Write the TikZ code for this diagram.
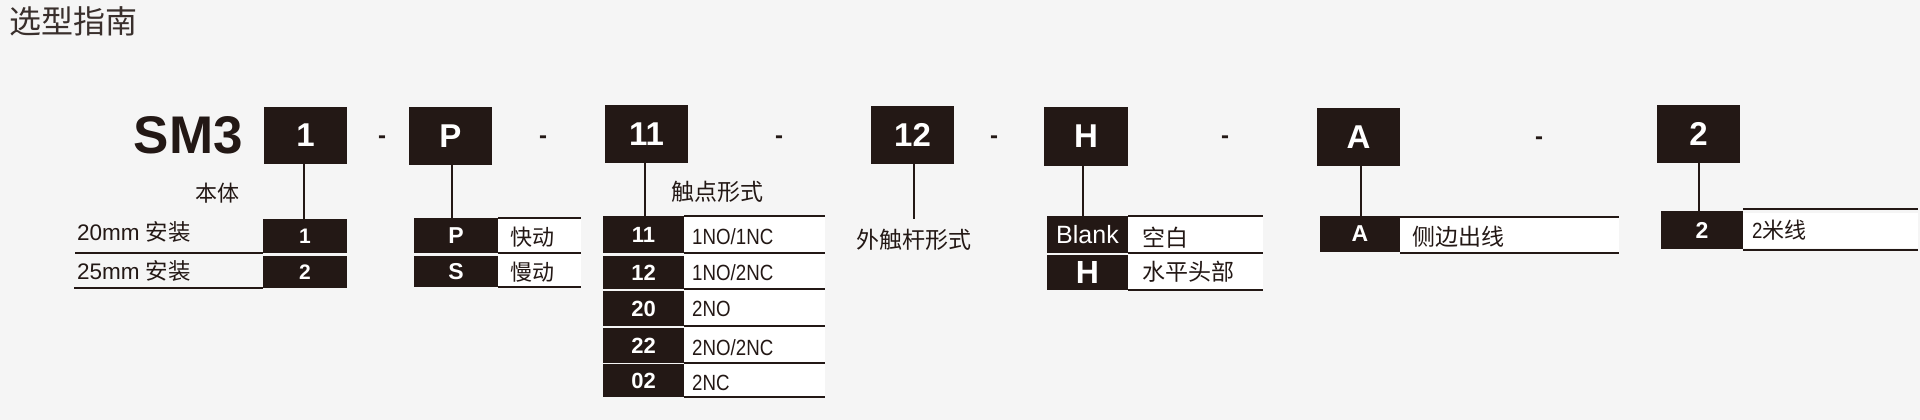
\documentclass[tikz,border=0pt]{standalone}
\usepackage{fontspec}
\setmainfont{Liberation Sans}
\newfontfamily\cjk{Noto Sans CJK SC}
\newfontfamily\narrow[FakeStretch=0.85]{Liberation Sans}
\newcommand\fs[1]{\fontsize{#1}{#1}\selectfont}
\definecolor{boxc}{HTML}{231815}
\definecolor{bgc}{HTML}{F5F5F5}
\tikzset{
  bbox/.style={fill=boxc,text=white,inner sep=0,minimum width=83,minimum height=58,font=\bfseries\fs{33}},
  sbox/.style={fill=boxc,text=white,inner sep=0,font=\bfseries\fs{21}},
  lbl/.style={anchor=west,inner sep=0,text=boxc,font=\cjk\fs{22}},
  hrule/.style={draw=boxc,line width=1.6},
  vconn/.style={draw=boxc,line width=2},
  hyph/.style={anchor=base,inner sep=0,text=boxc,font=\bfseries\fs{24}},
}
\begin{document}
\begin{tikzpicture}[x=1pt,y=-1pt]
\fill[bgc] (0,0) rectangle (1920,420);
\useasboundingbox (0,0) rectangle (1920,420);
% white cells
\fill[white] (498,218) rectangle (581,288);
\fill[white] (684,217) rectangle (825,398);
\fill[white] (1128,217) rectangle (1263,289);
\fill[white] (1400,217) rectangle (1619,253);
\fill[white] (1743,213) rectangle (1918,248);

\node[anchor=west,inner sep=0,text=boxc!90,font=\cjk\fs{32}] (title) at (9,21) {选型指南};
\node[anchor=east,inner sep=0,text=boxc,font=\bfseries\fs{53}] (sm3) at (243,135) {SM3};

% main code boxes
\node[bbox,minimum width=83,minimum height=57] (b1)  at (305.5,135.5) {1};
\node[bbox] (bP)  at (450.5,136) {P};
\node[bbox] (b11) at (646.5,134) {11};
\node[bbox] (b12) at (912.5,135) {12};
\node[bbox,minimum width=84,minimum height=59] (bH)  at (1086,136.5) {H};
\node[bbox] (bA)  at (1358.5,137) {A};
\node[bbox] (b2)  at (1698.5,134) {2};

% hyphens
\node[hyph] (d1) at (382,143) {-};
\node[hyph] (d2) at (543,143) {-};
\node[hyph] (d3) at (779,143) {-};
\node[hyph] (d4) at (994,143) {-};
\node[hyph] (d5) at (1225,143) {-};
\node[hyph] (d6) at (1539,144) {-};

% --- table 1 : body
\node[lbl,anchor=center] (t1) at (217,193) {本体};
\node[sbox,minimum width=84,minimum height=34] (s1a) at (305,236) {1};
\node[sbox,minimum width=84,minimum height=32] (s1b) at (305,272) {2};
\draw[vconn] ([xshift=-2pt]b1.south) -- ([xshift=-2pt]b1.south |- s1a.north);
\draw[hrule] (s1a.south west) -- ++(-188,0);
\draw[hrule] (s1b.south west) -- ++(-189,0);
\node[lbl] (l1a) at (77,232) {\fs{22.5}\rmfamily 20mm \cjk 安装};
\node[lbl] (l1b) at (77,271) {\fs{22.5}\rmfamily 25mm \cjk 安装};

% --- table P
\node[sbox,font=\bfseries\fs{23},minimum width=84,minimum height=35] (sPa) at (456,235.5) {P};
\node[sbox,font=\bfseries\fs{23},minimum width=84,minimum height=31] (sPb) at (456,271.5) {S};
\draw[vconn] ([xshift=1.5pt]bP.south) -- ([xshift=1.5pt]bP.south |- sPa.north);
\draw[hrule] (sPa.north east) -- ++(83,0);
\draw[hrule] (sPa.south east) -- ++(83,0);
\draw[hrule] (sPb.south east) -- ++(83,0);
\node[lbl] (lPa) at (510,237) {快动};
\node[lbl] (lPb) at (510,272) {慢动};

% --- table 11
\node[lbl,anchor=center,font=\cjk\fs{23}] (t11) at (717,192) {触点形式};
\node[sbox,font=\bfseries\fs{22},minimum width=81,minimum height=37] (r1) at (643.5,234.5) {11};
\node[sbox,font=\bfseries\fs{22},minimum width=81,minimum height=33] (r2) at (643.5,272.5) {12};
\node[sbox,font=\bfseries\fs{22},minimum width=81,minimum height=35] (r3) at (643.5,308.5) {20};
\node[sbox,font=\bfseries\fs{22},minimum width=81,minimum height=35] (r4) at (643.5,345.5) {22};
\node[sbox,font=\bfseries\fs{22},minimum width=81,minimum height=33] (r5) at (643.5,380.5) {02};
\draw[vconn] ([xshift=-1.5pt]b11.south) -- ([xshift=-1.5pt]b11.south |- r1.north);
\draw[hrule] (r1.north east) -- ++(141,0);
\draw[hrule] (r1.south east) -- ++(141,0);
\draw[hrule] (r2.south east) -- ++(141,0);
\draw[hrule] (r3.south east) -- ++(141,0);
\draw[hrule] (r4.south east) -- ++(141,0);
\draw[hrule] (r5.south east) -- ++(141,0);
\node[lbl,font=\narrow\fs{22}] (lr1) at (692,237) {1NO/1NC};
\node[lbl,font=\narrow\fs{22}] (lr2) at (692,273) {1NO/2NC};
\node[lbl,font=\narrow\fs{22}] (lr3) at (692,309) {2NO};
\node[lbl,font=\narrow\fs{22}] (lr4) at (692,348) {2NO/2NC};
\node[lbl,font=\narrow\fs{22}] (lr5) at (692,383) {2NC};

% --- 12
\coordinate (e12) at (914,219);
\draw[vconn] (b12.south -| e12) -- (e12);
\node[lbl,anchor=center,font=\cjk\fs{23}] (t12) at (913.5,240) {外触杆形式};

% --- table H
\node[sbox,font=\fs{25},minimum width=81,minimum height=37] (sBl) at (1087.5,234.5) {Blank};
\node[sbox,font=\bfseries\fs{32},minimum width=81,minimum height=35] (sH) at (1087.5,272.5) {H};
\draw[vconn] ([xshift=-3pt]bH.south) -- ([xshift=-3pt]bH.south |- sBl.north);
\draw[hrule] (sBl.north east) -- ++(135,0);
\draw[hrule] (sBl.south east) -- ++(135,0);
\draw[hrule] (sH.south east) -- ++(135,0);
\node[lbl,font=\cjk\fs{23}] (lBl) at (1142,238) {空白};
\node[lbl,font=\cjk\fs{23}] (lH) at (1142,272) {水平头部};

% --- table A
\node[sbox,font=\bfseries\fs{23},minimum width=80,minimum height=36] (sA) at (1360,234) {A};
\draw[vconn] ([xshift=2.5pt]bA.south) -- ([xshift=2.5pt]bA.south |- sA.north);
\draw[hrule] ([yshift=-1pt]sA.north east) -- ++(219,0);
\draw[hrule] ([yshift=-1pt]sA.south east) -- ++(219,0);
\node[lbl,font=\cjk\fs{23}] (lA) at (1412,237) {侧边出线};

% --- table 2
\node[sbox,font=\bfseries\fs{23},minimum width=82,minimum height=38] (s2) at (1702,230) {2};
\draw[vconn] (b2.south) -- (b2.south |- s2.north);
\draw[hrule] ([yshift=2pt]s2.north east) -- ++(175,0);
\draw[hrule] ([yshift=-1pt]s2.south east) -- ++(175,0);
\node[lbl] (l2) at (1752,230) {\narrow\fs{22}2\cjk 米线};
\end{tikzpicture}
\end{document}
